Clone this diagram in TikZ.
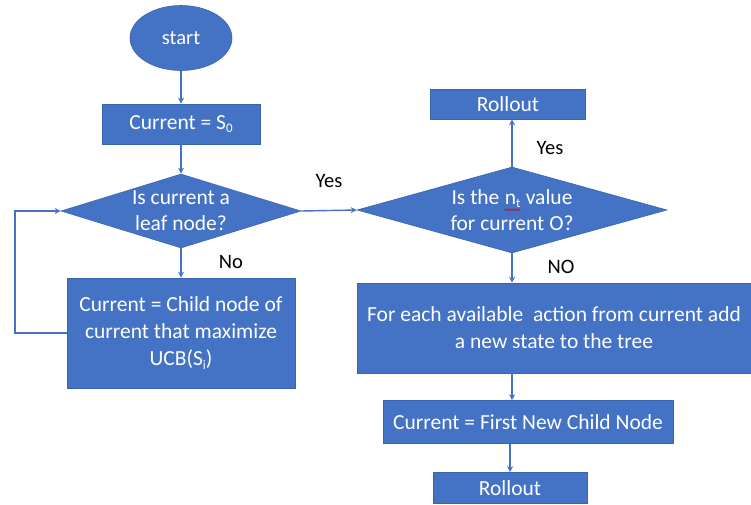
\documentclass[tikz,border=0pt]{standalone}
\usepackage{fontspec}
\setmainfont{Carlito}
\usetikzlibrary{shapes.geometric,arrows.meta,decorations.pathmorphing}
\definecolor{ofblue}{HTML}{4472C4}
\definecolor{ofedge}{HTML}{3A64B0}
\newcommand\subt[1]{\raisebox{-0.35ex}{\fontsize{13}{13}\selectfont #1}}
\newcommand\squig[1]{\tikz[baseline=(s.base),x=1pt,y=1pt]{\node[inner sep=0pt,text=white](s){#1};
  \draw[red!85!black, line width=0.6pt, decorate, decoration={snake,amplitude=0.9pt,segment length=3.2pt}]
  ([yshift=-1.5pt]s.south west) -- ([yshift=-1.5pt]s.south east);}}
\tikzset{
  box/.style={rectangle, fill=ofblue, draw=ofedge, line width=0.6pt, text=white, inner sep=0pt, align=center,
    font=\fontsize{21.5}{27}\selectfont},
  ovalbox/.style={ellipse, fill=ofblue, draw=ofedge, line width=0.6pt, text=white, inner sep=0pt,
    font=\fontsize{20.5}{24}\selectfont},
  dia/.style={diamond, fill=ofblue, draw=ofedge, line width=0.6pt, inner sep=0pt},
  diatext/.style={text=white, align=center, font=\fontsize{21.5}{26}\selectfont, inner sep=0pt},
  conn/.style={ofblue, line width=1.4pt, -{Stealth[length=6pt,width=6pt]}},
  lbl/.style={text=black, font=\fontsize{20.5}{22}\selectfont, inner sep=0pt}
}
\begin{document}
\begin{tikzpicture}[x=1pt,y=-1pt]
\useasboundingbox (0,0) rectangle (751,504);
\node[ovalbox, minimum width=102pt, minimum height=65pt] (start) at (181,38) {start};
\node[box, minimum width=158pt, minimum height=40pt] (cur0) at (181,124) {Current = S\subt{0}};
\node[dia, minimum width=240pt, minimum height=74pt,
  label={[diatext]center:Is current a\\leaf node?}] (leaf) at (181,211) {};
\node[box, minimum width=228pt, minimum height=110pt] (child) at (181,333)
  {Current = Child node of\\current that maximize\\UCB(S\subt{i})};
\node[dia, minimum width=310pt, minimum height=86pt,
  label={[diatext]center:Is the \squig{n\subt{t}} value\\for current O?}] (ntq) at (512,210) {};
\node[box, minimum width=155pt, minimum height=30pt] (roll1) at (508,104) {Rollout};
\node[box, minimum width=394pt, minimum height=90pt] (expand) at (554,328)
  {For each available~ action from current add\\a new state to the tree};
\node[box, minimum width=290pt, minimum height=43pt] (first) at (528,422) {Current = First New Child Node};
\node[box, minimum width=154pt, minimum height=31pt] (roll2) at (510,488) {Rollout};
\coordinate (loop) at (15,0);

\draw[conn] (start) -- (cur0);
\draw[conn] (cur0) -- (leaf);
\draw[conn] (leaf) -- (child);
\draw[conn] (child.west) -- (child.west -| loop) -- (leaf.west -| loop) -- (leaf.west);
\draw[conn] (leaf.east) -- (ntq.west);
\draw[conn] (ntq.north) -- (ntq.north |- roll1.south);
\draw[conn] (ntq.south) -- (ntq.south |- expand.north);
\draw[conn] (ntq.south |- expand.south) -- (ntq.south |- first.north);
\draw[conn] (roll2.north |- first.south) -- (roll2.north);

\node[lbl] (lno) at (231,262) {No};
\node[lbl] (lyes1) at (329,181) {Yes};
\node[lbl] (lyes2) at (550,148) {Yes};
\node[lbl] (lno2) at (561,267) {NO};
\end{tikzpicture}
\end{document}
